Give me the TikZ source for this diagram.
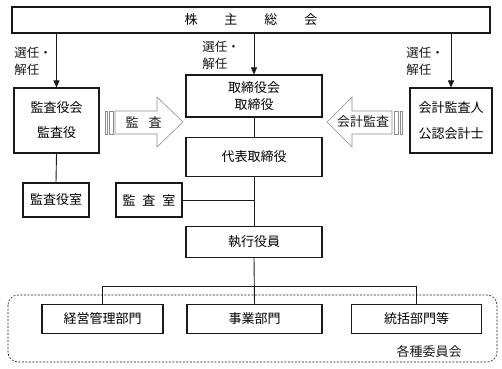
\documentclass[tikz,border=0pt]{standalone}
\usepackage{fontspec}
\setmainfont{Noto Sans CJK JP}
\usetikzlibrary{arrows.meta}
\definecolor{ink}{gray}{0.10}
\definecolor{mid}{gray}{0.55}

\begin{document}
\begin{tikzpicture}[x=1pt, y=-1pt, line width=0.9pt, font=\fontsize{13}{15}\selectfont,
  unit/.style={draw=ink, line width=1.1pt, fill=white, inner sep=0pt, align=center},
  hollow/.style={draw=mid, line width=0.6pt, fill=white},
  pick/.style={ink, -{Triangle[length=7pt, width=6pt]}}]
  \useasboundingbox (0,0) rectangle (502,368);

  % committee frame
  \draw[ink, line width=0.6pt, dash pattern=on 2pt off 1.5pt, rounded corners=10pt] (8,295) rectangle (497,362);
  \node[ink] (iinkai) at (429,352) {各種委員会};

  % boxes
  \node[unit, minimum width=478, minimum height=26] (soukai) at (251,20) {株\hspace{27pt}主\hspace{27pt}総\hspace{27pt}会};
  \node[unit, minimum width=85, minimum height=65, font=\fontsize{13}{25}\selectfont] (kansayakukai) at (56.5,120.5) {監査役会\\監査役};
  \node[unit, minimum width=136, minimum height=42, font=\fontsize{13}{17}\selectfont] (torikai) at (254,96) {取締役会\\取締役};
  \node[unit, minimum width=82, minimum height=65, font=\fontsize{13}{26}\selectfont] (kaikei) at (451,120.5) {会計監査人\\公認会計士};
  \node[unit, minimum width=136, minimum height=39] (daihyo) at (254,157) {代表取締役};
  \node[unit, minimum width=136, minimum height=31] (shikko) at (254,242) {執行役員};
  \node[unit, minimum width=66, minimum height=34] (yakushitsu) at (56,200) {監査役室};
  \node[unit, minimum width=66, minimum height=34] (kansashitsu) at (149,200) {監\hspace{7pt}査\hspace{7pt}室};
  \node[unit, minimum width=121, minimum height=29] (keiei) at (102.5,319) {経営管理部門};
  \node[unit, minimum width=135, minimum height=29] (jigyo) at (254.5,319) {事業部門};
  \node[unit, minimum width=130, minimum height=29] (toukatsu) at (416.5,319) {統括部門等};

  % election arrows
  \foreach \b/\x/\y in {kansayakukai/14/61, torikai/202/55, kaikei/406/61}{
    \draw[pick] (soukai.south -| \b.north) -- (\b.north);
    \node[ink, anchor=west, align=left, inner sep=0pt, font=\fontsize{12.5}{17}\selectfont] at (\x,\y) {選任・\\解任};
  }

  % audit arrows
  \draw[hollow] (105,111) rectangle (107,134);
  \draw[hollow] (109,111) rectangle (113,134);
  \draw[hollow] (115,111) -- (157,111) -- (157,97) -- (183,122) -- (157,147) -- (157,134) -- (115,134) -- cycle;
  \node[ink] (kansa) at (143.5,122) {監\hspace{10pt}査};
  \draw[hollow] (402,111) rectangle (400,134);
  \draw[hollow] (398,111) rectangle (394,134);
  \draw[hollow] (392,111) -- (352,111) -- (352,97) -- (327,122) -- (352,147) -- (352,134) -- (392,134) -- cycle;
  \node[ink] (kaikeikansa) at (363,122) {会計監査};

  % connectors
  \draw[ink] (torikai.south) -- (daihyo.north);
  \draw[ink] (daihyo.south) -- (shikko.north);
  \draw[ink] (kansayakukai.south) -- (yakushitsu.north);
  \draw[ink] (kansashitsu.east) -- (kansashitsu.east -| daihyo.south);
  \coordinate (bus) at (0,286);
  \draw[ink] (shikko.south) -- (jigyo.north);
  \draw[ink] (keiei.north) |- (bus -| jigyo.north) -| (toukatsu.north);
\end{tikzpicture}
\end{document}
